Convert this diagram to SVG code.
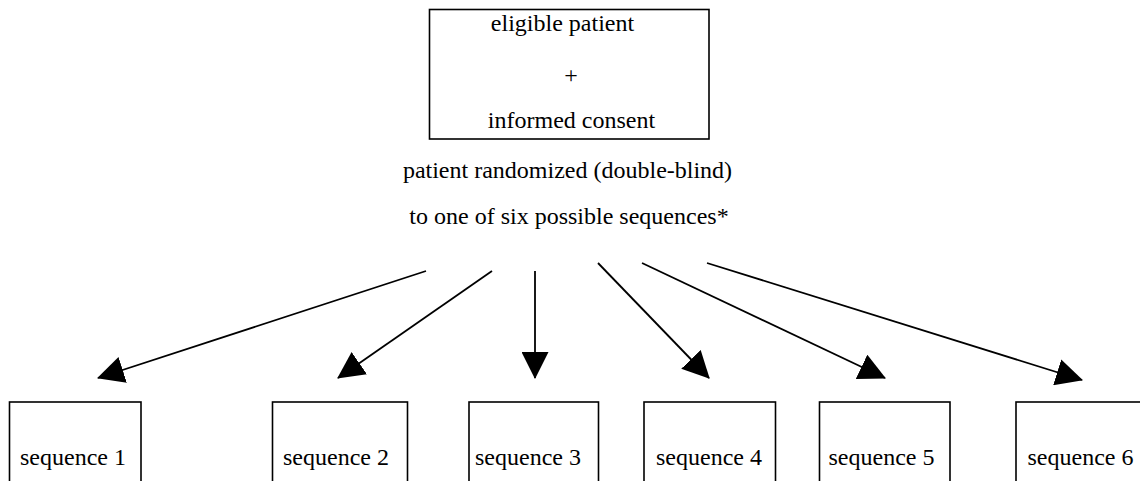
<svg xmlns="http://www.w3.org/2000/svg" width="1140" height="481" viewBox="0 0 1140 481">
<style>
  .box { fill: #ffffff; stroke: #000000; stroke-width: 1.6; }
  .txt { font-family: "Liberation Serif", "Times New Roman", serif; font-size: 24px; fill: #000000; text-anchor: middle; }
  .edge { stroke: #000000; stroke-width: 1.8; fill: none; marker-end: url(#arrow); }
</style>
<defs>
  <marker id="arrow" markerUnits="userSpaceOnUse" markerWidth="27" markerHeight="27" viewBox="0 0 26 26" refX="25" refY="13" orient="auto">
    <path d="M0,0 L26,13 L0,26 Z" fill="#000000"/>
  </marker>
</defs>
<rect width="1140" height="481" fill="#ffffff"/>
<g id="start">
  <rect class="box" x="429.5" y="9.5" width="279.5" height="129.5"/>
  <text class="txt" x="562.5" y="31">eligible patient</text>
  <text class="txt" x="571" y="83">+</text>
  <text class="txt" x="571.5" y="128">informed consent</text>
</g>
<g id="randomize">
  <text class="txt" x="567.5" y="178">patient randomized (double-blind)</text>
  <text class="txt" x="569" y="224">to one of six possible sequences*</text>
</g>
<g id="connectors">
  <line class="edge" x1="426" y1="271" x2="98" y2="378"/>
  <line class="edge" x1="492" y1="271" x2="338" y2="378"/>
  <line class="edge" x1="535" y1="271" x2="535" y2="378"/>
  <line class="edge" x1="598" y1="263" x2="709" y2="378"/>
  <line class="edge" x1="642" y1="263" x2="885" y2="378"/>
  <line class="edge" x1="707" y1="263" x2="1082" y2="380"/>
</g>
<g id="seq1">
  <rect class="box" x="9.5" y="402" width="131.5" height="100"/>
  <text class="txt" x="73" y="465">sequence 1</text>
</g>
<g id="seq2">
  <rect class="box" x="272.5" y="402" width="135" height="100"/>
  <text class="txt" x="336" y="465">sequence 2</text>
</g>
<g id="seq3">
  <rect class="box" x="469" y="402" width="129.5" height="100"/>
  <text class="txt" x="528" y="465">sequence 3</text>
</g>
<g id="seq4">
  <rect class="box" x="644" y="402" width="131.5" height="100"/>
  <text class="txt" x="709" y="465">sequence 4</text>
</g>
<g id="seq5">
  <rect class="box" x="819.5" y="402" width="130.5" height="100"/>
  <text class="txt" x="881.5" y="465">sequence 5</text>
</g>
<g id="seq6">
  <rect class="box" x="1016" y="402" width="131" height="100"/>
  <text class="txt" x="1080.5" y="465">sequence 6</text>
</g>
</svg>
